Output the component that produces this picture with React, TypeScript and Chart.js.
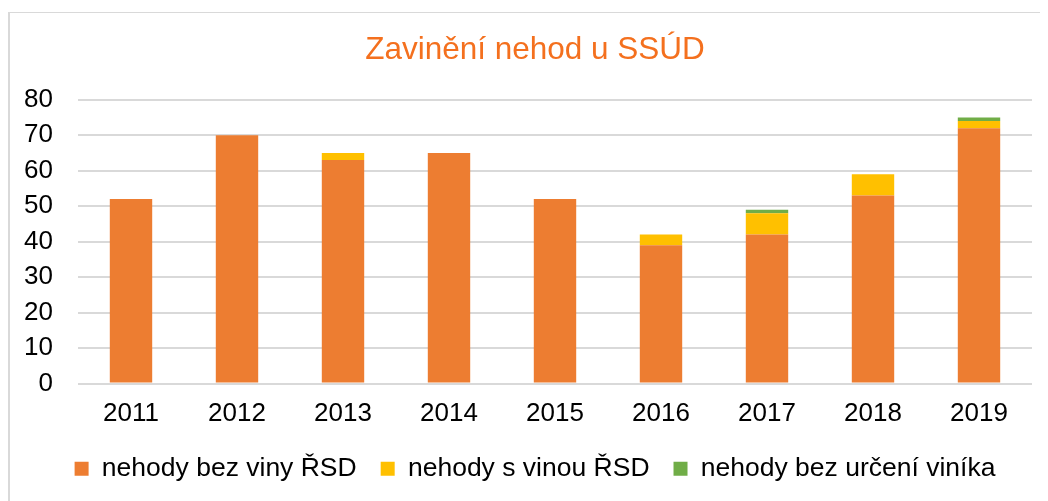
import React, { useEffect, useRef } from "react";
import { Chart, registerables } from "chart.js";

Chart.register(...registerables);

const years = ["2011", "2012", "2013", "2014", "2015", "2016", "2017", "2018", "2019"];
const noFaultRSD = [52, 70, 63, 65, 52, 39, 42, 53, 72];
const faultRSD = [null, null, 2, null, null, 3, 6, 6, 2];
const undetermined = [null, null, null, null, null, null, 1, null, 1];
const seriesNames = ["nehody bez viny ŘSD", "nehody s vinou ŘSD", "nehody bez určení viníka"];
const titleText = "Zavinění nehod u SSÚD";

const FONT = "'Liberation Sans', Arial, sans-serif";

export default function App() {
  const ref = useRef<HTMLCanvasElement | null>(null);

  useEffect(() => {
    document.documentElement.style.overflow = "hidden";
    document.body.style.overflow = "hidden";
    if (!ref.current) return;
    const chart = new Chart(ref.current, {
      type: "bar",
      data: {
        labels: years,
        datasets: [
          { label: seriesNames[0], data: noFaultRSD, backgroundColor: "#ED7D31", barPercentage: 0.4, categoryPercentage: 1 },
          { label: seriesNames[1], data: faultRSD, backgroundColor: "#FFC000", barPercentage: 0.4, categoryPercentage: 1 },
          { label: seriesNames[2], data: undetermined, backgroundColor: "#70AD47", barPercentage: 0.4, categoryPercentage: 1 },
        ],
      },
      options: {
        animation: false,
        responsive: false,
        maintainAspectRatio: false,
        layout: { padding: { left: 0, right: 0, top: 0, bottom: 9 } },
        plugins: {
          title: {
            display: true,
            text: titleText,
            color: "#F4701E",
            font: { family: FONT, size: 31.5, weight: "normal" },
            padding: { top: 18, bottom: 31 },
          },
          legend: {
            position: "bottom",
            labels: {
              boxWidth: 14,
              boxHeight: 14,
              color: "#000",
              font: { family: FONT, size: 26.5 },
              padding: 24,
            },
          },
          tooltip: { enabled: false },
        },
        scales: {
          x: {
            stacked: true,
            grid: { display: false, drawTicks: false },
            border: { display: false },
            ticks: { color: "#000", font: { family: FONT, size: 26 }, padding: 15 },
            afterFit: (s: any) => {
              s.height = 48;
            },
          },
          y: {
            stacked: true,
            min: 0,
            max: 80,
            grid: { color: "#D9D9D9", lineWidth: 2, drawTicks: false },
            border: { display: false },
            ticks: { stepSize: 10, color: "#000", font: { family: FONT, size: 26 }, padding: 25 },
            afterFit: (s: any) => {
              s.width = 68;
            },
          },
          yRight: {
            position: "right",
            display: true,
            grid: { display: false, drawTicks: false },
            border: { display: false },
            ticks: { display: false },
            afterFit: (s: any) => {
              s.width = 28;
            },
          },
        },
      },
    });
    return () => chart.destroy();
  }, []);

  return (
    <div style={{ paddingTop: 4 }}>
      <div style={{ borderTop: "1px solid #D9D9D9", borderLeft: "2px solid #D9D9D9", width: 1038, height: 488, overflow: "hidden" }}>
        <canvas ref={ref} width={1050} height={488} style={{ display: "block" }} />
      </div>
    </div>
  );
}
